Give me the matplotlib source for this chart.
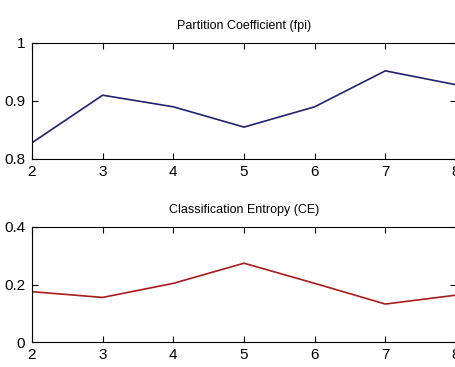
import numpy as np
import matplotlib.pyplot as plt

clusters = [2, 3, 4, 5, 6, 7, 8]
pc = [0.828, 0.910, 0.890, 0.855, 0.890, 0.952, 0.928]
ce = [0.175, 0.155, 0.204, 0.274, 0.204, 0.132, 0.163]

plt.rcParams['font.family'] = ['Liberation Sans', 'DejaVu Sans']

fig = plt.figure(figsize=(4.56, 3.67), dpi=100)
W, H = 456, 367

def make_ax(top, bottom):
    ax = fig.add_axes([32 / W, 1 - bottom / H, (456 - 32) / W, (bottom - top) / H])
    ax.tick_params(direction='in', top=True, right=True, length=4, labelsize=11)
    ax.tick_params(axis='x', pad=4)
    ax.tick_params(axis='y', pad=5)
    for s in ax.spines.values():
        s.set_linewidth(0.8)
    ax.set_xlim(2, 8)
    ax.set_xticks(clusters)
    return ax

ax1 = make_ax(43, 159)
ax1.plot(clusters, pc, color='#22226e', lw=1.2)
ax1.set_ylim(0.8, 1)
ax1.set_yticks([0.8, 0.9, 1])
ax1.set_yticklabels(['0.8', '0.9', '1'])
ax1.set_title('Partition Coefficient (fpi)', fontsize=9, pad=10)

ax2 = make_ax(227, 342)
ax2.plot(clusters, ce, color='#a81c1c', lw=1.2)
ax2.set_ylim(0, 0.4)
ax2.set_yticks([0, 0.2, 0.4])
ax2.set_yticklabels(['0', '0.2', '0.4'])
ax2.set_title('Classification Entropy (CE)', fontsize=9, pad=10)

fig.savefig('out.png', dpi=100)
